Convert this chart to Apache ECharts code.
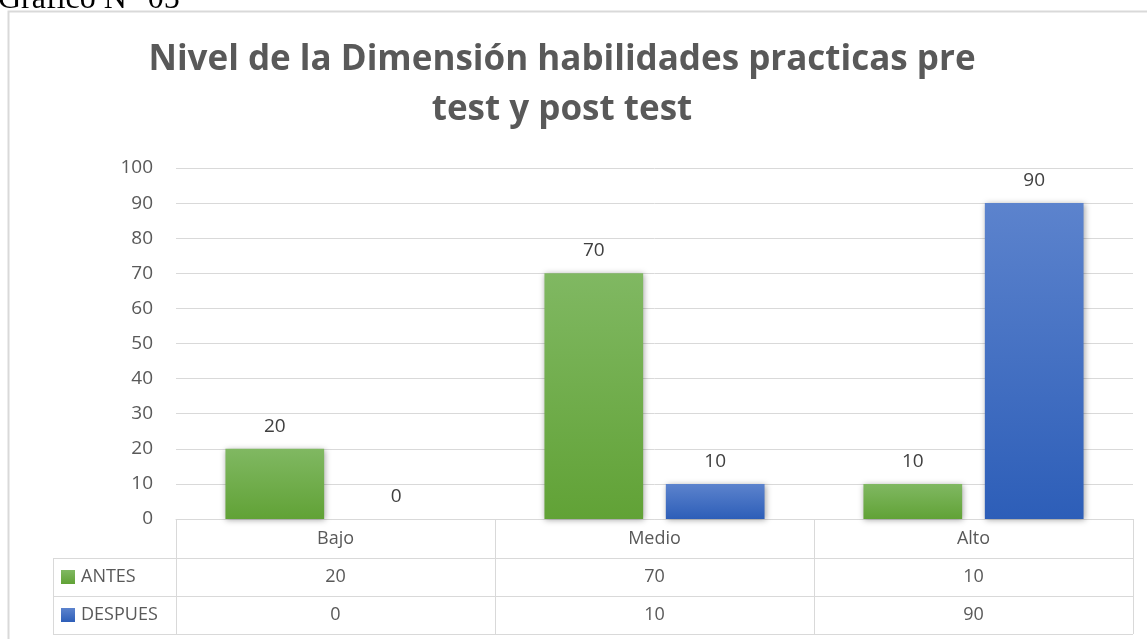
<!DOCTYPE html>
<html>
<head>
<meta charset="utf-8">
<script src="https://cdn.jsdelivr.net/npm/echarts@6/dist/echarts.min.js"></script>
<style>
html,body{margin:0;padding:0;background:#fff;}
#main{width:1147px;height:639px;}
</style>
</head>
<body>
<div id="main"></div>
<script>
// datos del grafico
var categorias = ['Bajo', 'Medio', 'Alto'];
var antes = [20, 70, 10];
var despues = [0, 10, 90];
var series_nombres = ['ANTES', 'DESPUES'];
var yTicks = {min: 0, max: 100, step: 10};

var FONT = '"Open Sans"';
var LINEA = '#d9d9d9';

var chart = echarts.init(document.getElementById('main'));

function grad(top, bottom) {
    return new echarts.graphic.LinearGradient(0, 0, 0, 1, [
        {offset: 0, color: top},
        {offset: 1, color: bottom}
    ]);
}
var colVerde = grad('#80b862', '#61a236');
var colAzul = grad('#5c83cd', '#2d5eb8');

var option = {
    animation: false,
    title: {
        text: 'Nivel de la Dimensión habilidades practicas pre\ntest y post test',
        left: 557,
        top: 30,
        textAlign: 'center',
        textStyle: {
            fontFamily: FONT,
            fontWeight: 'bold',
            fontSize: 35,
            lineHeight: 50,
            color: '#595959'
        }
    },
    grid: {left: 176, right: 14, top: 168, bottom: 120},
    xAxis: {
        type: 'category',
        data: categorias,
        axisLine: {lineStyle: {color: LINEA}},
        axisTick: {show: false},
        axisLabel: {fontFamily: FONT, fontSize: 18, color: '#595959', margin: 11}
    },
    yAxis: {
        type: 'value',
        min: yTicks.min,
        max: yTicks.max,
        interval: yTicks.step,
        axisLine: {show: false},
        axisTick: {show: false},
        axisLabel: {fontFamily: FONT, fontSize: 19, color: '#595959', margin: 23},
        splitLine: {lineStyle: {color: LINEA, width: 1}}
    },
    series: [
        {
            name: series_nombres[0],
            type: 'bar',
            data: antes,
            barGap: '23%',
            barCategoryGap: '31%',
            itemStyle: {
                color: colVerde,
                shadowBlur: 6, shadowColor: 'rgba(0,0,0,0.35)', shadowOffsetX: 1, shadowOffsetY: 1
            },
            label: {show: true, position: 'top', distance: 13, fontFamily: FONT, fontSize: 19, color: '#404040'}
        },
        {
            name: series_nombres[1],
            type: 'bar',
            data: despues,
            itemStyle: {
                color: colAzul,
                shadowBlur: 6, shadowColor: 'rgba(0,0,0,0.35)', shadowOffsetX: 1, shadowOffsetY: 1
            },
            label: {show: true, position: 'top', distance: 13, fontFamily: FONT, fontSize: 19, color: '#404040'}
        }
    ]
};
chart.setOption(option);

// tabla de datos debajo del grafico
var tLeft = 53, tAxis = 176, tRight = 1133;
var filas = [519, 558, 596, 634];
var g = [];
// marco exterior
g.push({type: 'rect', shape: {x: 8.5, y: 11.5, width: 1160, height: 660}, style: {fill: null, stroke: LINEA, lineWidth: 2}, z: 0});
g.push({type: 'text', x: -2, y: -16, style: {text: 'Gráfico N° 05', font: '32px "Liberation Serif"', fill: '#000'}});

for (var i = 1; i < filas.length; i++) {
    g.push({type: 'line', shape: {x1: tLeft, y1: filas[i] + 0.5, x2: tRight, y2: filas[i] + 0.5}, style: {stroke: LINEA, lineWidth: 1}});
}
g.push({type: 'line', shape: {x1: tLeft + 0.5, y1: filas[1], x2: tLeft + 0.5, y2: filas[3]}, style: {stroke: LINEA}});
var anchoCat = (tRight - tAxis) / categorias.length;
for (var c = 0; c <= categorias.length; c++) {
    var xv = Math.round(tAxis + c * anchoCat) + 0.5;
    g.push({type: 'line', shape: {x1: xv, y1: filas[0], x2: xv, y2: filas[3]}, style: {stroke: LINEA}});
}
var valores = [antes, despues];
var colores = [colVerde, colAzul];
for (var s = 0; s < valores.length; s++) {
    var yc = (filas[s + 1] + filas[s + 2]) / 2;
    g.push({type: 'rect', shape: {x: 61, y: yc - 7, width: 14, height: 14}, style: {fill: colores[s]}});
    g.push({type: 'text', x: 81, y: yc, style: {text: series_nombres[s], font: '18px ' + FONT, fill: '#595959', verticalAlign: 'middle'}});
    for (var k = 0; k < categorias.length; k++) {
        var px = chart.convertToPixel({xAxisIndex: 0}, categorias[k]);
        g.push({type: 'text', x: px, y: yc, style: {text: String(valores[s][k]), font: '18px ' + FONT, fill: '#595959', align: 'center', verticalAlign: 'middle'}});
    }
}
chart.setOption({graphic: {elements: g}});
</script>
</body>
</html>
